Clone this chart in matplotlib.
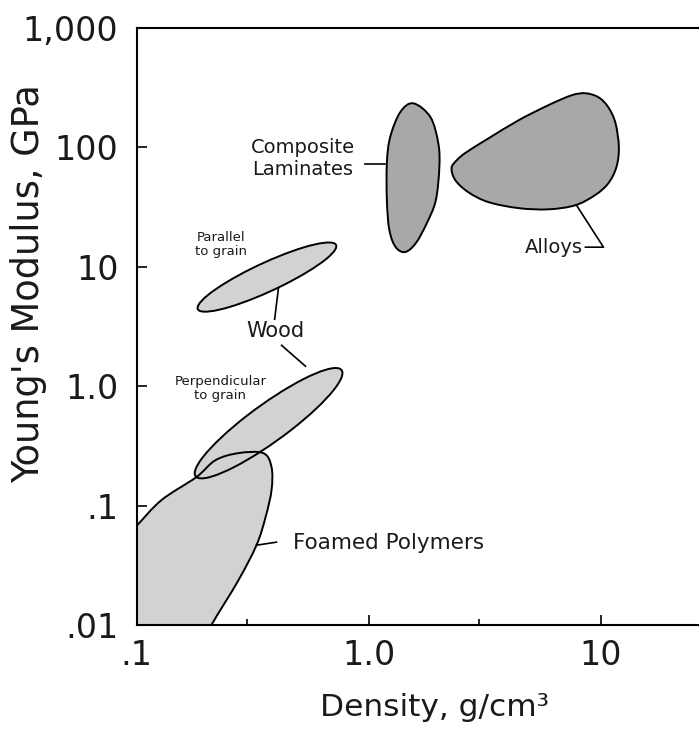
import numpy as np
import matplotlib
matplotlib.use("Agg")
import matplotlib.pyplot as plt
from matplotlib.path import Path
from matplotlib.patches import PathPatch, Ellipse
from matplotlib.ticker import NullLocator, NullFormatter

# region outlines: density (g/cm3) vs Young's modulus (GPa)
alloys_density = [2.28, 2.40, 2.64, 3.29, 4.44, 5.97, 7.50, 8.61, 9.80, 10.8, 11.6,
                  12.0, 11.7, 10.8, 9.5, 7.8, 5.97, 4.44, 3.29, 2.70, 2.37]
alloys_modulus = [67, 78, 91, 119, 169, 226, 273, 284, 263, 217, 160,
                  100, 68, 50, 40, 32.8, 30.3, 31, 34.8, 42, 53]

composite_density = [1.56, 1.85, 2.00, 2.02, 1.95, 1.78, 1.60, 1.44, 1.31, 1.23, 1.20, 1.20, 1.24, 1.37]
composite_modulus = [234, 179, 108, 68, 36, 23, 15.8, 13.3, 14.6, 20.3, 36, 74, 122, 197]

# foamed polymers run off the bottom/left of the chart
foam_density = [0.099, 0.128, 0.181, 0.219, 0.275, 0.352, 0.382, 0.382, 0.360, 0.329,
                0.275, 0.210, 0.174, 0.05, 0.05, 0.076]
foam_modulus = [0.066, 0.111, 0.173, 0.240, 0.275, 0.275, 0.210, 0.135, 0.080, 0.0466,
                0.0237, 0.00995, 0.0050, 0.0032, 0.02, 0.038]

# wood regions as ellipses in log space: centre, width/height in decades, angle
wood_par_center = (0.365, 8.2)
wood_par_size = (0.81, 0.195, 44)
wood_perp_center = (0.371, 0.49)
wood_perp_size = (1.10, 0.225, 56.4)

x_ticks = [0.1, 1, 10]
x_labels = [".1", "1.0", "10"]
x_minor = [0.3, 3]
y_ticks = [0.01, 0.1, 1, 10, 100, 1000]
y_labels = [".01", ".1", "1.0", "10", "100", "1,000"]

light = "#d2d2d2"
dark = "#a8a8a8"


def outline_path(dens, mod):
    # closed smooth curve through the outline points, built in log space
    pts = np.log10(np.column_stack([dens, mod]))
    n = len(pts)
    verts, codes = [pts[0]], [Path.MOVETO]
    for i in range(n):
        p0, p1, p2, p3 = pts[i - 1], pts[i], pts[(i + 1) % n], pts[(i + 2) % n]
        verts += [p1 + (p2 - p0) / 6, p2 - (p3 - p1) / 6, p2]
        codes += [Path.CURVE4] * 3
    return Path(10 ** np.array(verts), codes)


def ellipse_path(center, size):
    w, h, ang = size
    e = Ellipse(np.log10(center), w, h, angle=ang)
    p = e.get_patch_transform().transform_path(e.get_path())
    return Path(10 ** p.vertices, p.codes)


W, H = 699, 731
fig = plt.figure(figsize=(W / 100, H / 100), dpi=100)
plt.rcParams['font.family'] = ['DejaVu Sans']

left, right, top, bottom = 136.5, 699, 28, 625
ax = fig.add_axes([left / W, (H - bottom) / H, (right - left) / W, (bottom - top) / H])
ax.set_xscale('log')
ax.set_yscale('log')
ax.set_xlim(0.1, 10 ** (-1 + (right - left) / 232))
ax.set_ylim(0.01, 1000)

regions = [
    (outline_path(foam_density, foam_modulus), light),
    (ellipse_path(wood_perp_center, wood_perp_size), light),
    (ellipse_path(wood_par_center, wood_par_size), light),
    (outline_path(composite_density, composite_modulus), dark),
    (outline_path(alloys_density, alloys_modulus), dark),
]
for path, col in regions:
    ax.add_patch(PathPatch(path, facecolor=col, edgecolor='none', zorder=1))
for path, col in regions:
    ax.add_patch(PathPatch(path, facecolor='none', edgecolor='black', lw=1.4, zorder=2))

# labels and leader lines
lab = dict(color='#1a1a1a', ha='center', va='center')
ax.text(0.52, 81, "Composite\nLaminates", fontsize=14, **lab)
ax.plot([0.97, 1.18], [72.3, 72.3], color='black', lw=1.2)

ax.text(6.27, 14.6, "Alloys", fontsize=14, **lab)
ax.plot([8.61, 10.3, 7.88], [14.6, 14.6, 32.8], color='black', lw=1.2)

ax.text(0.232, 15.5, "Parallel\nto grain", fontsize=9.5, linespacing=1.1, **lab)
ax.text(0.397, 2.89, "Wood", fontsize=15, **lab)
ax.plot([0.394, 0.409], [3.64, 6.62], color='black', lw=1.2)
ax.plot([0.422, 0.535], [2.20, 1.47], color='black', lw=1.2)
ax.text(0.230, 0.962, "Perpendicular\nto grain", fontsize=9.5, linespacing=1.1, **lab)

ax.text(0.475, 0.0484, "Foamed Polymers", fontsize=15.5, color='#1a1a1a', ha='left', va='center')
ax.plot([0.329, 0.401], [0.0466, 0.0494], color='black', lw=1.2)

# axes styling
ax.spines['right'].set_visible(False)
for s in ['left', 'bottom', 'top']:
    ax.spines[s].set_linewidth(1.5)
ax.set_xticks(x_ticks)
ax.set_xticklabels(x_labels)
ax.set_xticks(x_minor, minor=True)
ax.xaxis.set_minor_formatter(NullFormatter())
ax.set_yticks(y_ticks)
ax.set_yticklabels(y_labels)
ax.yaxis.set_minor_locator(NullLocator())
ax.tick_params(which='major', direction='in', length=7.5, width=1.2, labelsize=24,
               labelcolor='#1a1a1a')
ax.tick_params(axis='y', which='major', pad=13)
ax.tick_params(axis='x', which='major', pad=10)
ax.tick_params(which='minor', direction='in', length=4, width=1.2)

ax.set_ylabel("Young's Modulus, GPa", fontsize=26.5, color='#1a1a1a', va='center')
ax.yaxis.set_label_coords((29 - left) / (right - left), (bottom - 284) / (bottom - top))
ax.set_xlabel("Density, g/cm³", fontsize=22.5, color='#1a1a1a', va='center')
ax.xaxis.set_label_coords((435 - left) / (right - left), (bottom - 708) / (bottom - top))

fig.savefig("out.png", dpi=100)
